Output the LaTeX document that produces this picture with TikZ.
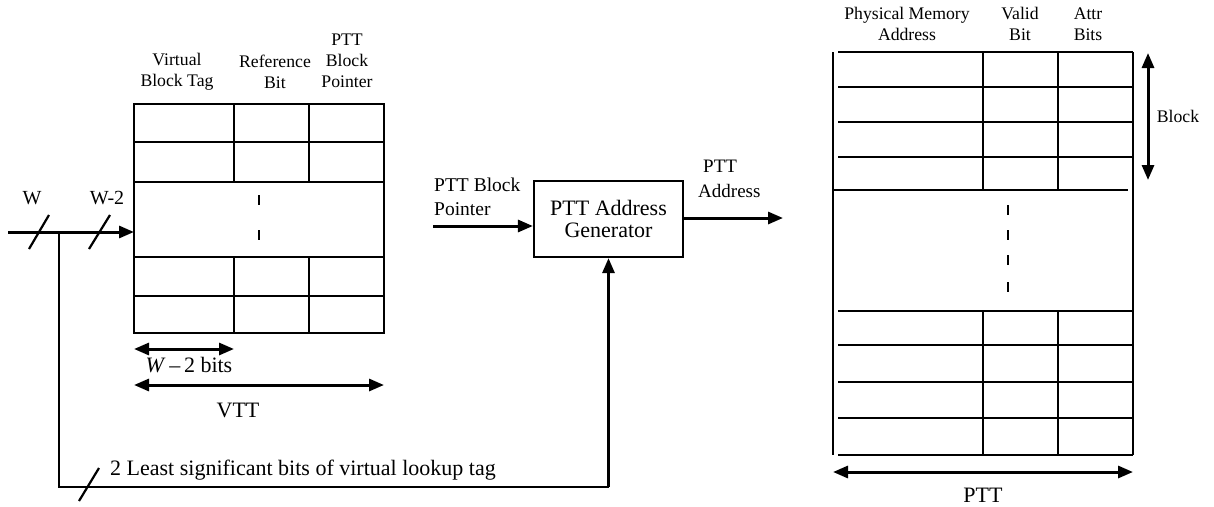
\documentclass[tikz,border=0pt]{standalone}
\usepackage{fontspec}
\setmainfont{Liberation Serif}
\usetikzlibrary{arrows.meta}
\begin{document}
\begin{tikzpicture}[x=1pt,y=-1pt,
  tline/.style={line width=2pt},
  wline/.style={line width=2.2pt},
  arr/.style={line width=3pt,-{Triangle[length=15pt,width=12pt]}},
  dimarrow/.style={line width=3pt,{Triangle[length=15pt,width=12pt]}-{Triangle[length=15pt,width=12pt]}},
  dashv/.style={line width=2pt},
  hdr/.style={inner sep=0pt,align=center,font=\fontsize{17.7}{21}\selectfont},
  lbl/.style={inner sep=0pt,font=\fontsize{22}{24}\selectfont},
  mlbl/.style={inner sep=0pt,align=left,font=\fontsize{19.5}{24}\selectfont},
  genbox/.style={draw,line width=2.2pt,minimum width=149pt,minimum height=76pt,inner sep=0pt,align=center,font=\fontsize{22}{22}\selectfont}
]
\useasboundingbox (0,0) rectangle (1214,506);

% ---------------- VTT table ----------------
\draw[tline] (134,104) rectangle (384,333);
\foreach \y in {142,182,257,296} \draw[tline] (134,\y) -- (384,\y);
\foreach \x in {234,309} {
  \draw[tline] (\x,104) -- (\x,182);
  \draw[tline] (\x,257) -- (\x,333);
}
\draw[dashv] (259,195) -- (259,205);
\draw[dashv] (259,230) -- (259,240);

\node[hdr] (hvt) at (177,72) {Virtual\\Block Tag};
\node[hdr] (hrb) at (275,72) {Reference\\Bit};
\node[hdr] (hpb) at (347,61) {PTT\\Block\\Pointer};

% input bus
\coordinate (vin) at (8,232);
\coordinate (vtt) at (134,232);
\coordinate (br) at (59,232);
\coordinate (bl) at (59,487);
\draw[arr] (vin) -- (vtt);
\draw[wline] (29,249) -- (49,215);
\draw[wline] (89,249) -- (110,215);
\node[inner sep=0pt,font=\fontsize{20}{22}\selectfont] (lw) at (32,198) {W};
\node[inner sep=0pt,font=\fontsize{20}{22}\selectfont] (lw2) at (107,198) {W-2};

% dimension arrows VTT
\coordinate (wa) at (134,349);
\coordinate (wb) at (234,349);
\draw[dimarrow] (wa) -- (wb);
\node[lbl] (wlbl) at (189,365) {\textit{W}\,–\,2 bits};
\coordinate (va) at (134,385);
\coordinate (vb) at (384,385);
\draw[dimarrow] (va) -- (vb);
\node[lbl] (vttl) at (238,410) {VTT};

% ---------------- PTT Address Generator ----------------
\node[genbox] (gen) at (608.5,219) {PTT Address\\Generator};
\coordinate (pin) at (433,226);
\draw[arr] (pin) -- (pin -| gen.west);
\node[mlbl,anchor=west] (pinl) at (434,197) {PTT Block\\Pointer};
\coordinate (pout) at (783,218);
\draw[arr] (gen.east |- pout) -- (pout);
\node[inner sep=0pt,align=left,anchor=west,font=\fontsize{19}{25}\selectfont] (poutl) at (698,179) {\hspace*{5pt}PTT\\Address};

% bottom branch
\draw[wline] (br) -- (bl) -- (gen.south |- bl);
\draw[arr] (gen.south |- bl) -- (gen.south);
\draw[wline] (79,501) -- (99,468);
\node[lbl,anchor=west] (lsb) at (110,470) {2 Least significant bits of virtual lookup tag};

% ---------------- PTT table ----------------
\draw[tline] (833,52) -- (833,455);
\draw[tline] (1133,52) -- (1133,455);
\foreach \y in {52,87,122,157,311,345,382,418,455} \draw[tline] (838,\y) -- (1133,\y);
\draw[tline] (833,190) -- (1128,190);
\foreach \x in {983,1058} {
  \draw[tline] (\x,52) -- (\x,190);
  \draw[tline] (\x,311) -- (\x,455);
}
\foreach \y in {205,230,255,282} \draw[dashv] (1008,\y) -- (1008,\y+10);

\node[hdr] (hpm) at (907,24) {Physical Memory\\Address};
\node[hdr] (hvb) at (1020,24) {Valid\\Bit};
\node[hdr] (hab) at (1088,24) {Attr\\Bits};

\coordinate (ba) at (1148,53);
\coordinate (bb) at (1148,180);
\draw[dimarrow] (ba) -- (bb);
\node[inner sep=0pt,font=\fontsize{17.7}{20}\selectfont] (blk) at (1178,116) {Block};

\coordinate (pa) at (833,472);
\coordinate (pb) at (1133,472);
\draw[dimarrow] (pa) -- (pb);
\node[lbl] (pttl) at (983,495) {PTT};
\end{tikzpicture}
\end{document}
